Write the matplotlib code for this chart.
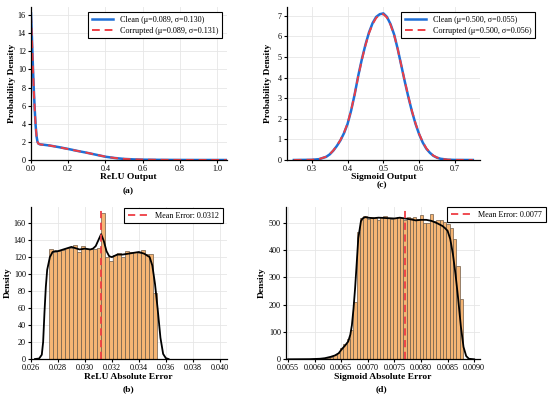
import numpy as np
import matplotlib
matplotlib.use("Agg")
import matplotlib.pyplot as plt

plt.rcParams['font.family'] = ['Liberation Serif', 'DejaVu Serif']
plt.rcParams['mathtext.fontset'] = 'stix'

# ---------------- data ----------------
# (a) ReLU output density
relu_x = [0.0, 0.005, 0.01, 0.015, 0.02, 0.025, 0.03, 0.035, 0.04, 0.05, 0.07, 0.1, 0.15, 0.2,
          0.25, 0.3, 0.35, 0.4, 0.45, 0.5, 0.55, 0.6, 0.7, 0.8, 0.9, 1.0, 1.05]
relu_clean = [16.2, 13.5, 10.5, 7.8, 5.6, 3.8, 2.6, 2.0, 1.8, 1.72, 1.68, 1.6, 1.42, 1.22,
              1.0, 0.8, 0.58, 0.36, 0.22, 0.12, 0.07, 0.04, 0.015, 0.006, 0.002, 0.001, 0.0]
relu_corrupt = [16.0, 13.4, 10.4, 7.7, 5.6, 3.8, 2.6, 2.0, 1.8, 1.72, 1.67, 1.6, 1.41, 1.2,
                1.0, 0.8, 0.58, 0.37, 0.22, 0.12, 0.07, 0.04, 0.015, 0.006, 0.002, 0.001, 0.0]

# (c) Sigmoid output density
sig_x = [0.25, 0.30, 0.32, 0.34, 0.35, 0.36, 0.37, 0.38, 0.39, 0.40, 0.41, 0.42, 0.43, 0.44,
         0.45, 0.46, 0.47, 0.48, 0.49, 0.50, 0.51, 0.52, 0.53, 0.54, 0.55, 0.56, 0.57, 0.58,
         0.59, 0.60, 0.61, 0.62, 0.63, 0.64, 0.65, 0.66, 0.68, 0.70, 0.75]
sig_clean = [0.0, 0.01, 0.04, 0.15, 0.27, 0.45, 0.68, 0.95, 1.3, 1.75, 2.4, 3.2, 4.1, 4.9,
             5.6, 6.2, 6.65, 6.95, 7.08, 7.12, 6.95, 6.6, 6.1, 5.4, 4.6, 3.8, 3.05, 2.35,
             1.75, 1.25, 0.85, 0.55, 0.35, 0.2, 0.11, 0.06, 0.015, 0.004, 0.0]
sig_corrupt = [0.0, 0.01, 0.04, 0.16, 0.28, 0.46, 0.69, 0.97, 1.32, 1.77, 2.42, 3.2, 4.08, 4.87,
               5.57, 6.16, 6.6, 6.9, 7.04, 7.08, 6.92, 6.57, 6.08, 5.4, 4.6, 3.82, 3.07, 2.37,
               1.77, 1.27, 0.87, 0.57, 0.36, 0.21, 0.12, 0.06, 0.016, 0.004, 0.0]

# (b) ReLU absolute error histogram (density)
relu_err_edges = (0.02736, 0.03531)
relu_err_hist = [130, 126, 127, 128, 131, 131, 134, 126, 133, 130, 130, 129, 131, 172,
                 120, 115, 123, 125, 120, 127, 126, 126, 125, 128, 124, 124, 78]
relu_kde_x = [0.0263, 0.0266, 0.0268, 0.0269, 0.0270, 0.0271, 0.0272, 0.0274, 0.0276, 0.0278,
              0.0280, 0.0284, 0.0288, 0.0290, 0.0292, 0.0296, 0.0300, 0.0304, 0.0306, 0.0308,
              0.0310, 0.0312, 0.0314, 0.0316, 0.0318, 0.0320, 0.0324, 0.0328, 0.0332, 0.0336,
              0.0340, 0.0344, 0.0348, 0.0350, 0.0352, 0.0354, 0.0356, 0.0358, 0.0360, 0.0362]
relu_kde_y = [0, 0.5, 5, 20, 55, 85, 105, 120, 126, 127,
              127, 129, 131, 132, 131, 129, 130, 129, 130, 133,
              140, 147, 139, 127, 121, 120, 123, 123, 124, 125,
              126, 124, 120, 110, 88, 58, 25, 6, 1, 0]
relu_mean = 0.0312

# (d) Sigmoid absolute error histogram (density)
sig_err_edges = (0.00604, 0.00879)
sig_err_hist = [1, 2, 3, 5, 8, 14, 22, 40, 55, 75, 107, 210, 466, 516,
                525, 512, 520, 515, 508, 522, 524, 518, 512, 515, 520, 518, 510, 522,
                515, 520, 512, 527, 500, 498, 530, 505, 510, 508, 502, 495, 480, 441, 340, 220]
sig_kde_x = [0.00550, 0.00590, 0.00610, 0.00619, 0.00630, 0.00638, 0.00645, 0.00651, 0.00657,
             0.00663, 0.00667, 0.00670, 0.00673, 0.00676, 0.00679, 0.00682, 0.00687, 0.00690,
             0.00695, 0.00700, 0.00710, 0.00720, 0.00730, 0.00740, 0.00750, 0.00760, 0.00770,
             0.00780, 0.00790, 0.00800, 0.00810, 0.00820, 0.00830, 0.00840, 0.00845, 0.00850,
             0.00855, 0.00860, 0.00865, 0.00870, 0.00875, 0.00880, 0.00885, 0.00890, 0.00900]
sig_kde_y = [0, 0.5, 2, 4, 9, 14, 22, 37, 50, 65, 90, 125, 185, 260, 350, 443, 505, 515,
             520, 518, 516, 518, 517, 516, 515, 518, 515, 512, 508, 510, 510, 506, 498, 488,
             480, 470, 440, 385, 310, 220, 120, 45, 12, 2, 0]
sig_mean = 0.0077

# ---------------- styling ----------------
W, H = 550, 399
fig = plt.figure(figsize=(W / 100, H / 100), dpi=100)

def add_ax(l, r, t, b):
    return fig.add_axes([l / W, (H - b) / H, (r - l) / W, (b - t) / H])

blue = '#1f6fd6'
red = '#ee3e44'
bar_face = '#f5b574'
bar_edge = '#6e5c4a'
tick_fs = 5.9
lab_fs = 6.8
leg_fs = 5.9

def style(ax):
    for s in ['top', 'right']:
        ax.spines[s].set_visible(False)
    for s in ['left', 'bottom']:
        ax.spines[s].set_linewidth(0.9)
        ax.spines[s].set_color('black')
    ax.grid(True, color='#e6e6e6', linewidth=0.6)
    ax.set_axisbelow(True)
    ax.tick_params(direction='out', length=2.5, width=0.8, labelsize=tick_fs, pad=1.2)

def labels(ax, xl, yl, xpix, ypix, L, R, T, B):
    ax.set_xlabel(xl, fontsize=lab_fs, fontweight='bold')
    ax.set_ylabel(yl, fontsize=lab_fs, fontweight='bold')
    ax.xaxis.set_label_coords(0.5, -(ypix - B) / (B - T))
    ax.xaxis.label.set_verticalalignment('center')
    ax.yaxis.set_label_coords((xpix - L) / (R - L), 0.5)
    ax.yaxis.label.set_verticalalignment('center')

def leg(ax, anchor):
    lg = ax.legend(fontsize=leg_fs, frameon=True, fancybox=False, edgecolor='black',
                   framealpha=1, borderpad=0.45, handlelength=2.6, labelspacing=0.35,
                   handletextpad=0.8, borderaxespad=0.0, loc='upper right',
                   bbox_to_anchor=anchor)
    lg.get_frame().set_linewidth(0.8)
    return lg

# (a)
L, R, T, B = 31, 226.5, 7, 160
ax = add_ax(L, R, T, B)
ax.plot(relu_x, relu_clean, color=blue, lw=1.8, label='Clean (μ=0.089, σ=0.130)')
ax.plot(relu_x, relu_corrupt, color=red, lw=1.4, ls=(0, (4, 2.5)),
        label='Corrupted (μ=0.089, σ=0.131)')
ax.set_xlim(0, 1.05)
ax.set_ylim(0, 16.9)
ax.set_xticks(np.arange(0, 1.01, 0.2))
ax.set_xticklabels(['0.0', '0.2', '0.4', '0.6', '0.8', '1.0'])
ax.set_yticks(range(0, 17, 2))
style(ax)
labels(ax, 'ReLU Output', 'Probability Density', 12, 176.7, L, R, T, B)
leg(ax, ((222 - L) / (R - L), (B - 12) / (B - T)))
fig.text(128 / W, 1 - 191.5 / H, '(a)', ha='center', va='center', fontsize=lab_fs, fontweight='bold')

# (c)
L, R, T, B = 286.7, 480, 7, 160
ax = add_ax(L, R, T, B)
ax.plot(sig_x, sig_clean, color=blue, lw=1.8, label='Clean (μ=0.500, σ=0.055)')
ax.plot(sig_x, sig_corrupt, color=red, lw=1.4, ls=(0, (4, 2.5)),
        label='Corrupted (μ=0.500, σ=0.056)')
ax.set_xlim(0.23, 0.77)
ax.set_ylim(0, 7.43)
ax.set_xticks([0.3, 0.4, 0.5, 0.6, 0.7])
ax.set_yticks(range(0, 8))
style(ax)
labels(ax, 'Sigmoid Output', 'Probability Density', 268, 176.7, L, R, T, B)
leg(ax, ((535 - L) / (R - L), (B - 12) / (B - T)))
fig.text(381.7 / W, 1 - 185 / H, '(c)', ha='center', va='center', fontsize=lab_fs, fontweight='bold')

# (b)
L, R, T, B = 31, 226.5, 207, 359
ax = add_ax(L, R, T, B)
e = np.linspace(relu_err_edges[0], relu_err_edges[1], len(relu_err_hist) + 1)
ax.bar(e[:-1], relu_err_hist, width=np.diff(e), align='edge', color=bar_face,
       edgecolor=bar_edge, linewidth=0.5)
ax.plot(relu_kde_x, relu_kde_y, color='black', lw=1.3)
ax.axvline(relu_mean, color=red, lw=1.3, ls=(0, (4, 2.5)), label=f'Mean Error: {relu_mean:.4f}')
ax.set_xlim(0.026, 0.0405)
ax.set_ylim(0, 179)
ax.set_xticks(np.arange(0.026, 0.0401, 0.002))
ax.set_xticklabels([f'{v:.3f}' for v in np.arange(0.026, 0.0401, 0.002)])
ax.set_yticks(range(0, 161, 20))
style(ax)
labels(ax, 'ReLU Absolute Error', 'Density', 8, 376.7, L, R, T, B)
leg(ax, ((223 - L) / (R - L), (B - 208) / (B - T)))
fig.text(128 / W, 1 - 389 / H, '(b)', ha='center', va='center', fontsize=lab_fs, fontweight='bold')

# (d)
L, R, T, B = 286, 480, 207, 359.3
ax = add_ax(L, R, T, B)
e = np.linspace(sig_err_edges[0], sig_err_edges[1], len(sig_err_hist) + 1)
ax.bar(e[:-1], sig_err_hist, width=np.diff(e), align='edge', color=bar_face,
       edgecolor=bar_edge, linewidth=0.5)
ax.plot(sig_kde_x, sig_kde_y, color='black', lw=1.3)
ax.axvline(sig_mean, color=red, lw=1.3, ls=(0, (4, 2.5)), label=f'Mean Error: {sig_mean:.4f}')
ax.set_xlim(0.00546, 0.00911)
ax.set_ylim(0, 557)
xt = np.arange(0.0055, 0.00901, 0.0005)
ax.set_xticks(xt)
ax.set_xticklabels([f'{v:.4f}' for v in xt])
ax.set_yticks(range(0, 501, 100))
style(ax)
labels(ax, 'Sigmoid Absolute Error', 'Density', 262, 376.7, L, R, T, B)
leg(ax, ((546 - L) / (R - L), (B - 207) / (B - T)))
fig.text(381.7 / W, 1 - 389 / H, '(d)', ha='center', va='center', fontsize=lab_fs, fontweight='bold')

fig.savefig('out.png', dpi=100, facecolor='white')
